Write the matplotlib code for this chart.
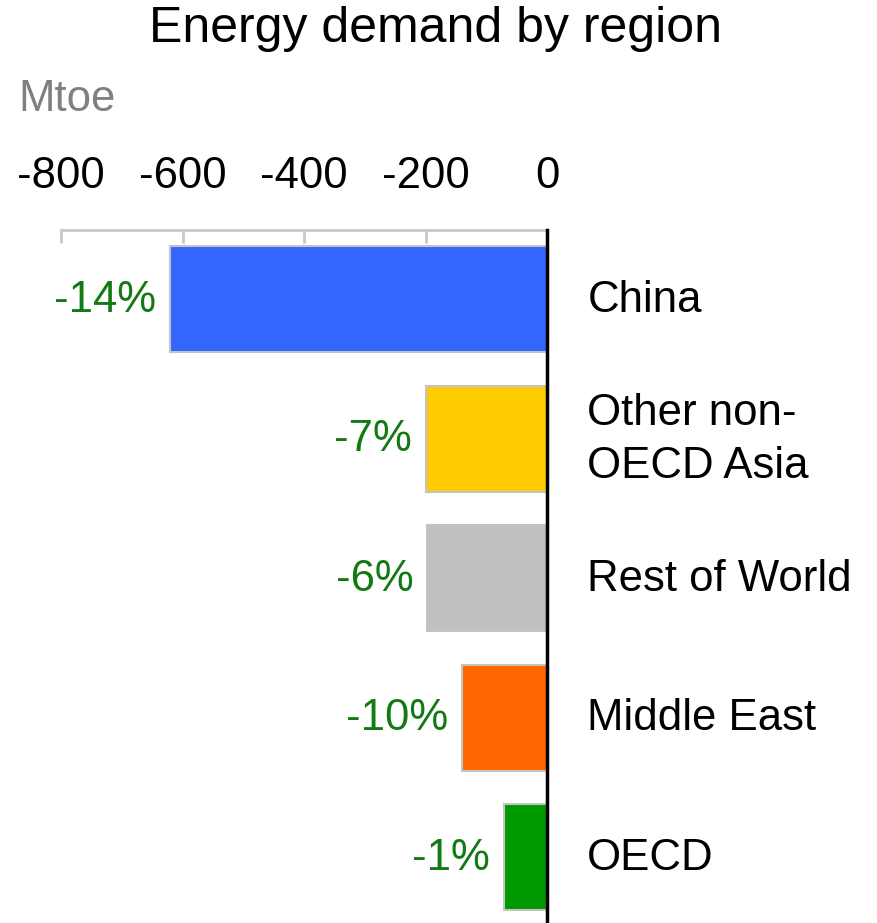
import matplotlib
matplotlib.use("Agg")
import matplotlib.pyplot as plt

plt.rcParams['font.family'] = ['Liberation Sans', 'DejaVu Sans']
plt.rcParams['axes.unicode_minus'] = False

regions = ["China", "Other non-\nOECD Asia", "Rest of World", "Middle East", "OECD"]
change = [-620, -199, -197, -140, -71]
pct_labels = ["-14%", "-7%", "-6%", "-10%", "-1%"]
colors = ["#3366FF", "#FFCC00", "#C0C0C0", "#FF6600", "#009900"]
ticks = [-800, -600, -400, -200, 0]

W, H = 877, 923
FS = 31.5
fig = plt.figure(figsize=(W / 100, H / 100), dpi=100)
ax = fig.add_axes([61 / W, 0, (547 - 61) / W, (H - 230) / H])

ypos = list(range(len(regions)))
ax.barh(ypos, change, height=0.76, color=colors, edgecolor="#c4c4c4", linewidth=1.5)

ax.set_xlim(-800, 0)
ax.set_ylim(4.473, -0.495)

for s in ["left", "bottom"]:
    ax.spines[s].set_visible(False)
ax.spines["top"].set_color("#c8c8c8")
ax.spines["top"].set_linewidth(2)
ax.spines["right"].set_color("black")
ax.spines["right"].set_linewidth(2.5)
ax.spines["right"].set_zorder(5)

ax.xaxis.tick_top()
ax.set_xticks(ticks)
ax.set_xticklabels([])
ax.tick_params(axis="x", direction="in", length=9, width=2, color="#c8c8c8")
ax.set_yticks([])

# tick labels, baseline ~42 px above the axis line
for t in ticks:
    ax.annotate(str(t), (t, 1), xycoords=("data", "axes fraction"),
                xytext=(0, 30), textcoords="offset points",
                ha="center", va="baseline", fontsize=FS, color="black",
                annotation_clip=False)

# value labels and category names
for y, v, p, name in zip(ypos, change, pct_labels, regions):
    ax.annotate(p, (v, y), xytext=(-10, -1), textcoords="offset points",
                ha="right", va="center", fontsize=FS, color="#137a13")
    ax.annotate(name, (0, y), xytext=(29, -1), textcoords="offset points",
                ha="left", va="center", fontsize=FS, color="black",
                linespacing=1.35, annotation_clip=False)

fig.text(435.5 / W, 1 - 42 / H, "Energy demand by region", ha="center",
         va="baseline", fontsize=36)
fig.text(18 / W, 1 - 111 / H, "Mtoe", ha="left", va="baseline", fontsize=FS,
         color="#808080")

fig.savefig("out.png", dpi=100)
